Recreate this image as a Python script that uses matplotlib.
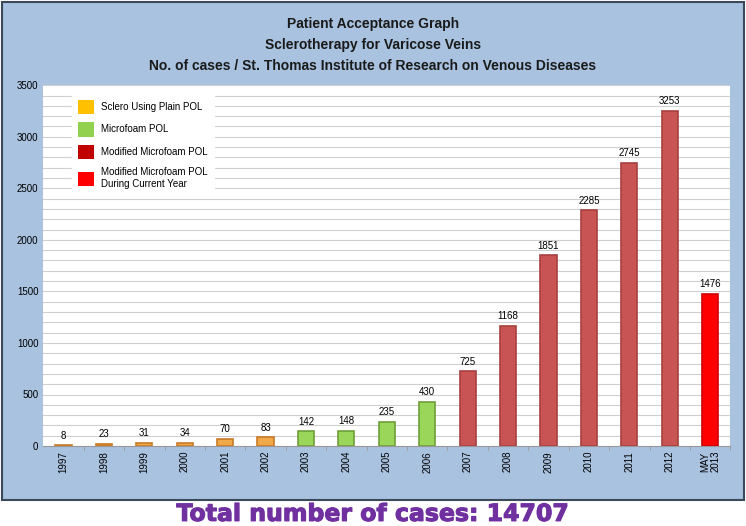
import matplotlib.pyplot as plt
import matplotlib.patheffects as pe
from matplotlib.patches import Patch, Rectangle

years = ['1997', '1998', '1999', '2000', '2001', '2002', '2003', '2004', '2005',
         '2006', '2007', '2008', '2009', '2010', '2011', '2012', 'MAY\n2013']
cases = [8, 23, 31, 34, 70, 83, 142, 148, 235, 430, 725, 1168, 1851, 2285, 2745, 3253, 1476]
groups = ['plain'] * 6 + ['foam'] * 4 + ['mod'] * 6 + ['cur']

fill = {'plain': '#f0a848', 'foam': '#9ad65a', 'mod': '#c85454', 'cur': '#ff0000'}
edge = {'plain': '#c87a28', 'foam': '#6f9e3a', 'mod': '#a84040', 'cur': '#d00000'}
legend_items = [('Sclero Using Plain POL', '#ffc000'),
                ('Microfoam POL', '#92d050'),
                ('Modified Microfoam POL', '#c00000'),
                ('Modified Microfoam POL\nDuring Current Year', '#ff0000')]

plt.rcParams['font.family'] = ['Liberation Sans', 'DejaVu Sans']

fig = plt.figure(figsize=(7.46, 5.26), dpi=100)
fig.patch.set_facecolor('white')
fig.patches.append(Rectangle((0.003, 0.049), 0.994, 0.947, transform=fig.transFigure,
                             facecolor='#a9c2df', edgecolor='#3a4a5a', lw=1.5, zorder=-1))

ax = fig.add_axes([0.058, 0.152, 0.921, 0.686])
ax.set_facecolor('white')
x = range(len(years))
ax.bar(x, cases, width=0.4, color=[fill[g] for g in groups],
       edgecolor=[edge[g] for g in groups], lw=1.2, zorder=3)
for i, v in enumerate(cases):
    ax.text(i, v + 45, str(v), ha='center', va='bottom', fontsize=7, zorder=4)

ax.set_xlim(-0.5, len(years) - 0.5)
ax.set_ylim(0, 3500)
ax.set_yticks(range(0, 3501, 500))
ax.set_yticks(range(0, 3501, 100), minor=True)
ax.yaxis.grid(True, which='both', color='#d0d0d0', lw=0.8, zorder=0)
ax.set_xticks(list(x))
ax.set_xticklabels(years, rotation=90, fontsize=7, linespacing=1.0)
ax.tick_params(axis='y', labelsize=7, length=0, which='both')
ax.tick_params(axis='x', length=0)
ax.set_xticks([i + 0.5 for i in range(len(years))], minor=True)
ax.tick_params(axis='x', which='minor', length=3, color='#999999')
for s in ['top', 'right', 'left']:
    ax.spines[s].set_visible(False)
ax.spines['bottom'].set_color('#999999')

handles = [Patch(facecolor=c, edgecolor='none', label=l) for l, c in legend_items]
leg = ax.legend(handles=handles, loc='upper left', bbox_to_anchor=(0.035, 0.99),
                fontsize=7, frameon=True, fancybox=False, edgecolor='white',
                framealpha=1, handlelength=1.6, handleheight=1.9, labelspacing=0.85,
                borderpad=0.6, handletextpad=0.8)

for y, t in [(0.955, 'Patient Acceptance Graph'),
             (0.915, 'Sclerotherapy for Varicose Veins'),
             (0.874, 'No. of cases / St. Thomas Institute of Research on Venous Diseases')]:
    fig.text(0.5, y, t, ha='center', va='center', fontsize=10, fontweight='bold',
             color='#1a1a1a')
fig.text(0.5, 0.023, 'Total number of cases: 14707', ha='center', va='center',
         fontsize=17, fontweight='bold', color='#7030a0', family='DejaVu Sans',
         path_effects=[pe.withStroke(linewidth=0.8, foreground='#7030a0')])

fig.savefig('out.png', dpi=100)
